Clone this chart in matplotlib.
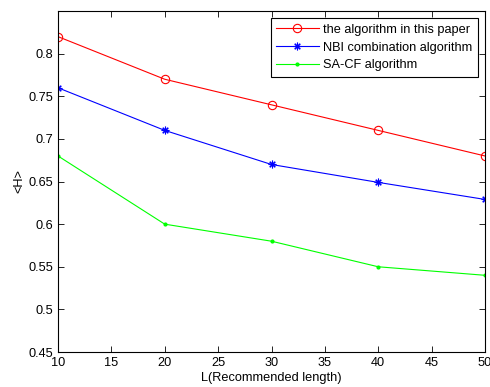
import matplotlib
matplotlib.use("Agg")
import matplotlib.pyplot as plt

plt.rcParams['font.family'] = ['Liberation Sans', 'DejaVu Sans']

# data
L = [10, 20, 30, 40, 50]
paper_alg = [0.82, 0.77, 0.74, 0.71, 0.68]
nbi_alg = [0.76, 0.71, 0.67, 0.649, 0.629]
sacf_alg = [0.68, 0.60, 0.58, 0.55, 0.54]

fig = plt.figure(figsize=(4.9, 3.87), dpi=100)
ax = fig.add_axes([0.1184, 0.0904, 0.8714, 0.881])

ax.plot(L, paper_alg, color='red', marker='o', markerfacecolor='none',
        markersize=6, markeredgewidth=0.8, linewidth=0.8,
        label='the algorithm in this paper')
ax.plot(L, nbi_alg, color='blue', marker=(8, 2, 0), markersize=5.5,
        markeredgewidth=0.8, linewidth=0.8, label='NBI combination algorithm')
ax.plot(L, sacf_alg, color='#00ff00', marker='.', markersize=4,
        linewidth=0.8, label='SA-CF algorithm')

ax.set_xlim(10, 50)
ax.set_ylim(0.45, 0.85)
ax.set_xticks(range(10, 51, 5))
ax.set_yticks([0.45, 0.5, 0.55, 0.6, 0.65, 0.7, 0.75, 0.8])
ax.set_yticklabels(['0.45', '0.5', '0.55', '0.6', '0.65', '0.7', '0.75', '0.8'])
ax.tick_params(direction='in', top=True, right=True, labelsize=9.2, length=4, width=0.6)
for s in ax.spines.values():
    s.set_linewidth(0.8)

ax.set_xlabel('L(Recommended length)', fontsize=9.2, labelpad=2)
ax.set_ylabel('<H>', fontsize=9.2, labelpad=2)

leg = ax.legend(loc='upper right', fontsize=9.2, fancybox=False, framealpha=1,
                edgecolor='black', borderaxespad=0.55, handlelength=3.3,
                handletextpad=0.35, labelspacing=0.45, borderpad=0.45)
leg.get_frame().set_linewidth(0.8)

fig.savefig('out.png', dpi=100)
